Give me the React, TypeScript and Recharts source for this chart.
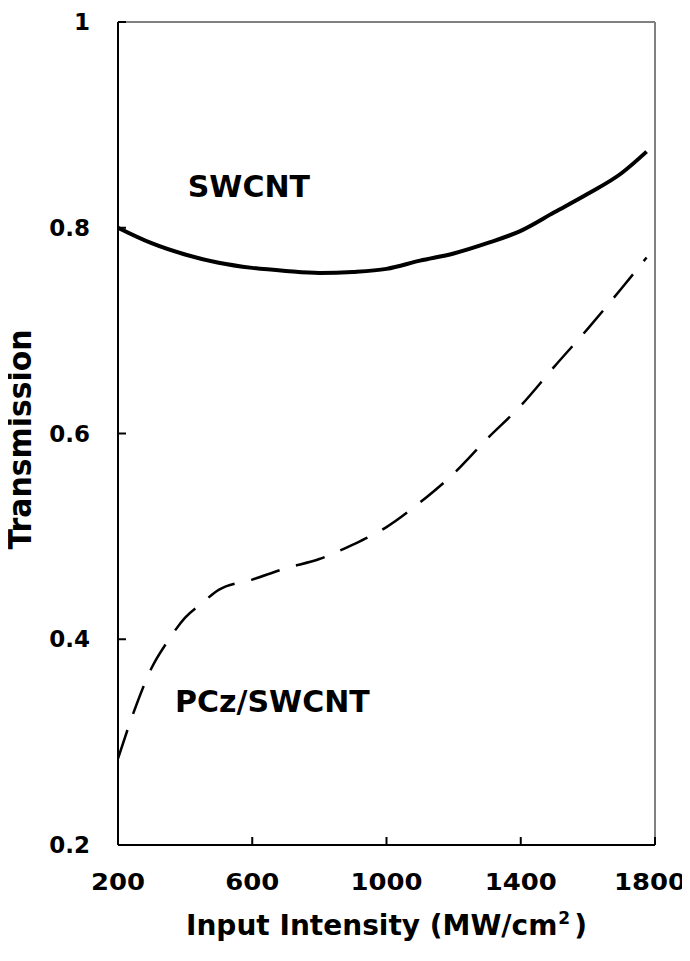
import { Line, LineChart, ReferenceDot, ReferenceLine, XAxis, YAxis } from "recharts";

const seriesNames = ["SWCNT", "PCz/SWCNT"];

const swcntIntensity = [200, 300, 400, 500, 600, 700, 800, 900, 1000, 1100, 1200, 1300, 1400, 1500, 1600, 1700, 1775];
const swcntTransmission = [0.8, 0.785, 0.774, 0.766, 0.761, 0.758, 0.756, 0.757, 0.76, 0.768, 0.775, 0.785, 0.797, 0.815, 0.833, 0.853, 0.874];

const pczIntensity = [200, 250, 300, 350, 400, 450, 500, 600, 700, 800, 900, 1000, 1100, 1200, 1300, 1400, 1500, 1600, 1700, 1775];
const pczTransmission = [0.284, 0.332, 0.372, 0.399, 0.421, 0.435, 0.448, 0.458, 0.469, 0.478, 0.492, 0.509, 0.533, 0.561, 0.595, 0.627, 0.665, 0.702, 0.741, 0.771];

const xTicks = [200, 600, 1000, 1400, 1800];
const yTicks = [0.2, 0.4, 0.6, 0.8, 1];

const swcnt = swcntIntensity.map((x, i) => ({ x, t: swcntTransmission[i] }));
const pcz = pczIntensity.map((x, i) => ({ x, t: pczTransmission[i] }));

const FONT = "'DejaVu Sans', 'Liberation Sans', sans-serif";
const W = 690;
const H = 950;

function XTick(props: any) {
  const label = String(props.payload.value);
  const len = label.length * 18;
  // keep the last label inside the page
  const x = Math.min(props.x, W - len / 2 - 4);
  return (
    <text x={x} y={props.y} dy="0.71em" textAnchor="middle" fontFamily={FONT} fontWeight="bold" fontSize={23} fill="#000" textLength={len} lengthAdjust="spacingAndGlyphs">
      {label}
    </text>
  );
}

function YTick(props: any) {
  const label = String(props.payload.value);
  return (
    <text x={props.x} y={props.y} dy="0.355em" textAnchor="end" fontFamily={FONT} fontWeight="bold" fontSize={23} fill="#000">
      {label}
    </text>
  );
}

function XTitle(props: any) {
  const vb = props.viewBox ?? { x: 118, y: 845, width: 537 };
  return (
    <text
      x={vb.x + vb.width / 2}
      y={vb.y + 90}
      textAnchor="middle"
      fontFamily={FONT}
      fontWeight="bold"
      fontSize={28}
      fill="#000"
    >
      Input Intensity (MW/cm<tspan dx={1} dy={-11} fontSize={17}>2</tspan><tspan dx={4} dy={11}>)</tspan>
    </text>
  );
}

function YTitle(props: any) {
  const vb = props.viewBox ?? { x: 0, y: 22, height: 823 };
  const cx = 31;
  const cy = vb.y + vb.height / 2 + 6;
  return (
    <text
      x={cx}
      y={cy}
      transform={`rotate(-90, ${cx}, ${cy})`}
      textAnchor="middle"
      fontFamily={FONT}
      fontWeight="bold"
      fontSize={32}
      fill="#000"
      textLength={220}
      lengthAdjust="spacingAndGlyphs"
    >
      Transmission
    </text>
  );
}

export default function App() {
  return (
    <div style={{ marginLeft: -8, marginTop: -8, width: W, height: H }}>
      <LineChart width={W} height={H} margin={{ top: 22, right: 35, bottom: 0, left: 0 }}>
        <ReferenceLine y={1} stroke="#808080" strokeWidth={2} />
        <ReferenceLine x={1800} stroke="#808080" strokeWidth={2} />
        <XAxis
          dataKey="x"
          type="number"
          domain={[200, 1800]}
          ticks={xTicks}
          allowDataOverflow
          height={H - 845}
          tickSize={-8}
          tickMargin={37}
          tick={<XTick />}
          tickLine={{ stroke: "#000", strokeWidth: 2 }}
          axisLine={{ stroke: "#000", strokeWidth: 2 }}
          label={{ content: XTitle }}
        />
        <YAxis
          type="number"
          domain={[0.2, 1]}
          ticks={yTicks}
          allowDataOverflow
          width={118}
          tickSize={-8}
          tickMargin={36}
          tick={<YTick />}
          tickLine={{ stroke: "#000", strokeWidth: 2 }}
          axisLine={{ stroke: "#000", strokeWidth: 2 }}
          label={{ content: YTitle }}
        />
        <Line
          data={swcnt}
          dataKey="t"
          name={seriesNames[0]}
          type="monotone"
          stroke="#000"
          strokeWidth={4}
          dot={false}
          isAnimationActive={false}
        />
        <Line
          data={pcz}
          dataKey="t"
          name={seriesNames[1]}
          type="monotone"
          stroke="#000"
          strokeWidth={2.5}
          strokeDasharray="30 17"
          dot={false}
          isAnimationActive={false}
        />
        <ReferenceDot
          x={590}
          y={0.84}
          r={0}
          fill="none"
          stroke="none"
          label={{ value: seriesNames[0], position: "center", fontSize: 30, fontWeight: "bold", fill: "#000", fontFamily: FONT }}
        />
        <ReferenceDot
          x={660}
          y={0.34}
          r={0}
          fill="none"
          stroke="none"
          label={{ value: seriesNames[1], position: "center", fontSize: 30, fontWeight: "bold", fill: "#000", fontFamily: FONT }}
        />
      </LineChart>
    </div>
  );
}
